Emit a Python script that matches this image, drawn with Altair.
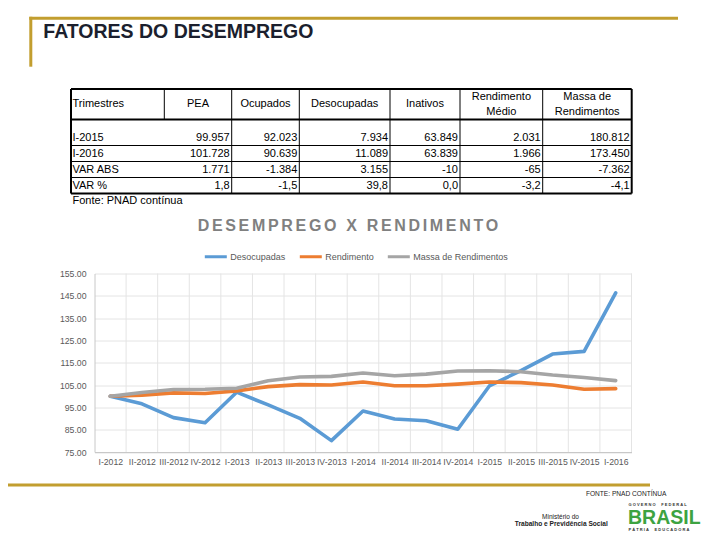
import altair as alt
import pandas as pd

# ---------------- data ----------------
quarters = ["I-2012", "II-2012", "III-2012", "IV-2012", "I-2013", "II-2013", "III-2013", "IV-2013",
            "I-2014", "II-2014", "III-2014", "IV-2014", "I-2015", "II-2015", "III-2015", "IV-2015", "I-2016"]
desocupadas = [100.0, 96.6, 90.4, 88.1, 101.8, 96.1, 90.1, 80.1, 93.4, 89.8, 89.0, 85.2,
               104.6, 111.5, 118.9, 120.1, 146.3]
rendimento = [100.0, 100.5, 101.5, 101.2, 102.4, 104.3, 105.2, 105.0, 106.4, 104.7, 104.7, 105.4,
              106.4, 106.1, 105.0, 103.1, 103.4]
massa = [100.0, 101.7, 103.0, 103.1, 103.6, 106.9, 108.6, 108.9, 110.4, 109.2, 109.9, 111.3,
         111.4, 111.0, 109.5, 108.4, 107.0]
series = ["Desocupadas", "Rendimento", "Massa de Rendimentos"]
series_colors = ["#5B9BD5", "#ED7D31", "#A5A5A5"]
y_ticks = [75, 85, 95, 105, 115, 125, 135, 145, 155]

table_headers = ["Trimestres", "PEA", "Ocupados", "Desocupadas", "Inativos",
                 "Rendimento\nMédio", "Massa de\nRendimentos"]
table_rows = ["I-2015", "I-2016", "VAR ABS", "VAR %"]
col_pea = ["99.957", "101.728", "1.771", "1,8"]
col_ocupados = ["92.023", "90.639", "-1.384", "-1,5"]
col_desocupadas = ["7.934", "11.089", "3.155", "39,8"]
col_inativos = ["63.849", "63.839", "-10", "0,0"]
col_rendimento = ["2.031", "1.966", "-65", "-3,2"]
col_massa = ["180.812", "173.450", "-7.362", "-4,1"]
table_source = "Fonte: PNAD contínua"

slide_title = "FATORES DO DESEMPREGO"
chart_title = "DESEMPREGO X RENDIMENTO"
footer_source = "FONTE: PNAD CONTÍNUA"

# ---------------- layout ----------------
FONT = "Liberation Sans"
GOLD = "#C29E2F"
OX, OY = 94.5, 273.5          # page position of the plot origin
PW, PH = 537, 178.5           # plot size


def cx(x):
    return x - OX


def cy(y):
    return y - OY


one = pd.DataFrame({"k": [0]})


def txt(text, x, y, size, color="#000000", weight="normal", align="left", baseline="middle", font=FONT):
    return alt.Chart(one).mark_text(align=align, baseline=baseline, font=font, fontSize=size,
                                    fontWeight=weight, color=color).encode(
        x=alt.value(cx(x)), y=alt.value(cy(y)), text=alt.value(text))


# ---------------- line chart ----------------
rows = []
for s, vals in zip(series, [desocupadas, rendimento, massa]):
    for i, (q, v) in enumerate(zip(quarters, vals)):
        rows.append({"idx": i, "quarter": q, "serie": s, "value": v})
lines_df = pd.DataFrame(rows)

label_expr = "[" + ",".join("'%s'" % q for q in quarters) + "][datum.value]"
x_enc = alt.X("idx:Q",
              scale=alt.Scale(domain=[-0.5, len(quarters) - 0.5], nice=False, zero=False),
              axis=alt.Axis(values=list(range(len(quarters))), labelExpr=label_expr, grid=False,
                            ticks=False, labelPadding=5, domainColor="#c8c8c8", domainWidth=1,
                            labelFontSize=8.7, labelColor="#595959", labelFont=FONT, title=None,
                            labelOverlap=False, labelFlush=False, labelBound=False))
y_enc = alt.Y("value:Q", scale=alt.Scale(domain=[75, 155], nice=False, zero=False),
              axis=alt.Axis(values=y_ticks, format=".2f", grid=True, gridColor="#e4e4e4",
                            ticks=False, labelPadding=8.5, domainColor="#c8c8c8",
                            labelFontSize=8.7, labelColor="#595959", labelFont=FONT, title=None))

vgrid_df = pd.DataFrame({"idx": [i - 0.5 for i in range(1, len(quarters) + 1)]})
vgrid = alt.Chart(vgrid_df).mark_rule(color="#e4e4e4", strokeWidth=1).encode(
    x=x_enc, y=alt.value(0), y2=alt.value(PH))

lines = alt.Chart(lines_df).mark_line(strokeWidth=3.6, strokeJoin="round", strokeCap="round").encode(
    x=x_enc, y=y_enc,
    color=alt.Color("serie:N", scale=alt.Scale(domain=series, range=series_colors),
                    legend=alt.Legend(orient="none", legendX=108.8, legendY=-29.5,
                                      direction="horizontal", title=None, symbolType="stroke",
                                      symbolStrokeWidth=3, symbolSize=484, labelFontSize=9,
                                      labelColor="#595959", labelFont=FONT, columnPadding=7,
                                      labelOffset=2, padding=0)),
    detail="serie:N")

# ---------------- table ----------------
col_edges = [71, 164.3, 231.7, 299.3, 390, 460, 542.7, 631.7]
head_top, head_bot = 89, 119.5
row_lines = [145.5, 161.5, 177.5, 193.5]
row_text_y = [137.5, 153.5, 169.5, 185.5]
LINE_GAP = 15

rules = []
L, R = col_edges[0], col_edges[-1]
rules.append(dict(x=cx(L), x2=cx(R), y=cy(head_top), y2=cy(head_top), w=2))
rules.append(dict(x=cx(L), x2=cx(R), y=cy(head_bot), y2=cy(head_bot), w=2))
rules.append(dict(x=cx(L), x2=cx(R), y=cy(row_lines[-1]), y2=cy(row_lines[-1]), w=2))
rules.append(dict(x=cx(L), x2=cx(L), y=cy(head_top), y2=cy(row_lines[-1]), w=2))
rules.append(dict(x=cx(R), x2=cx(R), y=cy(head_top), y2=cy(row_lines[-1]), w=2))
for yy in row_lines[:-1]:
    rules.append(dict(x=cx(L), x2=cx(R), y=cy(yy), y2=cy(yy), w=1))
for xx in col_edges[1:-1]:
    rules.append(dict(x=cx(xx), x2=cx(xx), y=cy(head_top), y2=cy(head_bot), w=1))
for xx in col_edges[2:-1]:
    rules.append(dict(x=cx(xx), x2=cx(xx), y=cy(head_bot), y2=cy(row_lines[-1]), w=1))
rules_df = pd.DataFrame(rules)

table_rules = alt.Chart(rules_df).mark_rule(color="#000000").encode(
    x=alt.X("x:Q", scale=None), x2="x2:Q",
    y=alt.Y("y:Q", scale=None), y2="y2:Q",
    strokeWidth=alt.StrokeWidth("w:Q", scale=None, legend=None))

head_y = (head_top + head_bot) / 2
head_rows = []
for i in range(1, len(table_headers)):
    parts = table_headers[i].split("\n")
    n = len(parts)
    for j, p in enumerate(parts):
        head_rows.append(dict(x=cx((col_edges[i] + col_edges[i + 1]) / 2),
                              y=cy(head_y + (j - (n - 1) / 2) * LINE_GAP), t=p))
head_center_layer = alt.Chart(pd.DataFrame(head_rows)).mark_text(
    align="center", baseline="middle", font=FONT, fontSize=11, color="#000000").encode(
    x=alt.X("x:Q", scale=None), y=alt.Y("y:Q", scale=None), text="t:N")

left_rows = [dict(x=cx(72.5), y=cy(head_y), t=table_headers[0])]
for r, yy in zip(table_rows, row_text_y):
    left_rows.append(dict(x=cx(72.5), y=cy(yy), t=r))
left_rows.append(dict(x=cx(72.5), y=cy(200.5), t=table_source))
left_layer = alt.Chart(pd.DataFrame(left_rows)).mark_text(
    align="left", baseline="middle", font=FONT, fontSize=11, color="#000000").encode(
    x=alt.X("x:Q", scale=None), y=alt.Y("y:Q", scale=None), text="t:N")

num_rows = []
for ci, col in enumerate([col_pea, col_ocupados, col_desocupadas, col_inativos, col_rendimento, col_massa]):
    right = col_edges[ci + 2] - 2
    for v, yy in zip(col, row_text_y):
        num_rows.append(dict(x=cx(right), y=cy(yy), t=v))
num_layer = alt.Chart(pd.DataFrame(num_rows)).mark_text(
    align="right", baseline="middle", font=FONT, fontSize=11, color="#000000").encode(
    x=alt.X("x:Q", scale=None), y=alt.Y("y:Q", scale=None), text="t:N")

# ---------------- slide decorations ----------------
gold_df = pd.DataFrame([
    dict(x=cx(29.3), x2=cx(678), y=cy(18.3), y2=cy(18.3)),
    dict(x=cx(30.8), x2=cx(30.8), y=cy(16.8), y2=cy(66.7)),
    dict(x=cx(8), x2=cx(650), y=cy(485), y2=cy(485)),
])
gold = alt.Chart(gold_df).mark_rule(color=GOLD, strokeWidth=3).encode(
    x=alt.X("x:Q", scale=None), x2="x2:Q", y=alt.Y("y:Q", scale=None), y2="y2:Q")

spaced_title = "\u200a\u200a".join(list(chart_title))


def letterspaced(s):
    return "\u00a0".join(("\u00a0" if c == " " else c) for c in s)


deco = [
    txt(slide_title, 43.3, 37.7, 19.5, color="#1b1f2e", weight="bold", baseline="alphabetic"),
    txt(spaced_title, 348, 226, 16, color="#808080", weight="bold", align="center"),
    txt(footer_source, 666.5, 493.5, 6.6, color="#222222", align="right"),
    txt("Ministério do", 560.5, 516.5, 6.5, color="#222222", align="center"),
    txt("Trabalho e Previdência Social", 561.3, 523.5, 6.6, color="#222222", weight="bold", align="center"),
    txt("BRASIL", 628, 518, 19.5, color="#3DA341", weight="bold", align="left"),
    txt(letterspaced("GOVERNO  FEDERAL"), 628.5, 504.5, 4.0, color="#333333", weight="bold"),
    txt(letterspaced("PÁTRIA  EDUCADORA"), 628.5, 530, 4.0, color="#333333", weight="bold"),
]

chart = alt.layer(
    vgrid, lines, table_rules, head_center_layer, left_layer, num_layer, gold, *deco
).properties(
    width=PW, height=PH,
    autosize=alt.AutoSizeParams(type="none"),
    padding={"left": OX - 8, "top": OY - 8, "right": 704 - (OX - 8) - PW, "bottom": 524 - (OY - 8) - PH},
    background="white",
).configure_view(strokeWidth=0)

chart.save("out.html", embed_options={"renderer": "svg", "actions": False})
